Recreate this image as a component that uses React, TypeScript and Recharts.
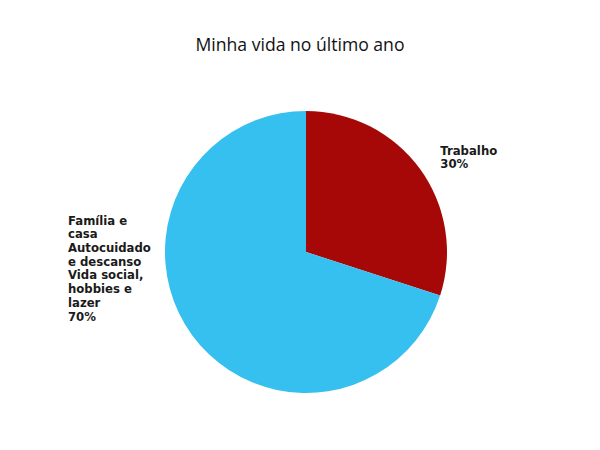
import React from "react";
import { PieChart, Pie, Cell } from "recharts";

const categories = [
  ["Trabalho"],
  ["Família e", "casa", "Autocuidado", "e descanso", "Vida social,", "hobbies e", "lazer"],
];
const values = [30, 70];
const percentLabels = ["30%", "70%"];
const colors = ["#a60808", "#36c0ef"];
const title = "Minha vida no último ano";

const data = values.map((v, i) => ({ name: categories[i].join(" "), value: v, idx: i }));

const RADIAN = Math.PI / 180;
const LINE_H = 13.7;

const renderLabel = (props: any) => {
  const { cx, cy, midAngle, outerRadius, index } = props;
  const lines = [...categories[index], percentLabels[index]];
  const cos = Math.cos(-midAngle * RADIAN);
  const right = cos >= 0;
  let x: number;
  let yCenter: number;
  if (right) {
    x = cx + (outerRadius + 25) * cos;
    yCenter = cy + (outerRadius + 20) * Math.sin(-midAngle * RADIAN);
  } else {
    x = cx - outerRadius * 1.688;
    yCenter = cy + outerRadius * 0.118;
  }
  const y0 = yCenter - ((lines.length - 1) * LINE_H) / 2;
  return (
    <text
      x={x}
      y={y0}
      fill="#1a1a1a"
      textAnchor="start"
      dominantBaseline="central"
      style={{ fontFamily: "'DejaVu Sans', Verdana, sans-serif", fontWeight: 700, fontSize: 11.7 }}
    >
      {lines.map((l, i) => (
        <tspan key={i} x={x} dy={i === 0 ? 0 : LINE_H}>
          {l}
        </tspan>
      ))}
    </text>
  );
};

export default function App() {
  return (
    <div style={{ width: 600, height: 450, position: "relative", margin: -8, background: "#fff" }}>
      <div
        style={{
          position: "absolute",
          top: 32,
          left: 0,
          width: 600,
          textAlign: "center",
          fontFamily: "'Open Sans', sans-serif",
          fontSize: 17.6,
          color: "#111",
          lineHeight: "24px",
        }}
      >
        {title}
      </div>
      <PieChart width={600} height={450} margin={{ top: 0, right: 0, bottom: 0, left: 0 }}>
        <Pie
          data={data}
          dataKey="value"
          nameKey="name"
          cx={306}
          cy={252}
          outerRadius={141}
          startAngle={90}
          endAngle={-270}
          stroke="none"
          label={renderLabel}
          labelLine={false}
          isAnimationActive={false}
        >
          {data.map((d, i) => (
            <Cell key={i} fill={colors[i]} />
          ))}
        </Pie>
      </PieChart>
    </div>
  );
}
